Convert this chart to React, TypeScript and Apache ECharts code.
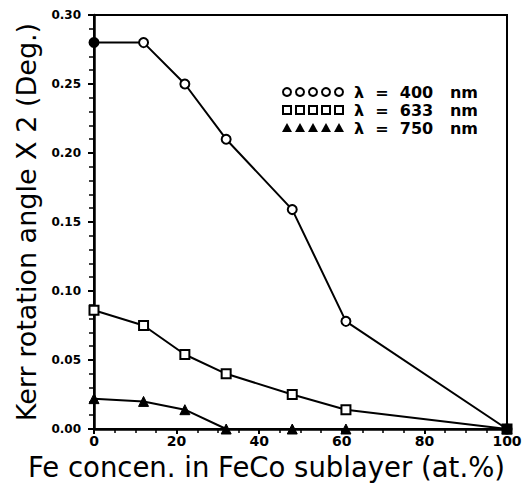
import React, { useEffect, useRef } from "react";
import * as echarts from "echarts";

const feConc = [0, 12, 22, 32, 48, 61, 100];
const kerr400 = [0.28, 0.28, 0.25, 0.21, 0.159, 0.078, 0.0];
const kerr633 = [0.086, 0.075, 0.054, 0.04, 0.025, 0.014, 0.0];
const kerr750 = [0.022, 0.02, 0.014, 0.0, 0.0, 0.0, 0.0];
const legendLabels = ["λ  =  400   nm", "λ  =  633   nm", "λ  =  750   nm"];
const seriesNames = ["400 nm", "633 nm", "750 nm"];

const FONT = "DejaVu Sans";

export default function App() {
  const ref = useRef<HTMLDivElement>(null);
  useEffect(() => {
    document.body.style.margin = "0";
    if (!ref.current) return;
    const chart = echarts.init(ref.current, undefined, { renderer: "svg" });
    const pts = (vals: number[]) => feConc.map((x, i) => [x, vals[i]]);
    const d400: any[] = pts(kerr400);
    d400[0] = { value: d400[0], itemStyle: { color: "#000" } };
    const d633: any[] = pts(kerr633);
    d633[d633.length - 1] = { value: d633[d633.length - 1], itemStyle: { color: "#000" } };
    const d750 = pts(kerr750);

    const legendX = 283;
    const legendY = [92, 110, 128];
    const legendEls: any[] = [];
    for (let r = 0; r < 3; r++) {
      for (let k = 0; k < 5; k++) {
        const cx = legendX + 4 + k * 13;
        const cy = legendY[r];
        if (r === 0) {
          legendEls.push({ type: "circle", shape: { cx, cy, r: 4 }, style: { fill: "#fff", stroke: "#000", lineWidth: 2 } });
        } else if (r === 1) {
          legendEls.push({ type: "rect", shape: { x: cx - 4, y: cy - 4, width: 8, height: 8 }, style: { fill: "#fff", stroke: "#000", lineWidth: 2 } });
        } else {
          legendEls.push({ type: "polygon", shape: { points: [[cx, cy - 5], [cx - 5, cy + 4], [cx + 5, cy + 4]] }, style: { fill: "#000" } });
        }
      }
      legendEls.push({
        type: "text",
        x: 354,
        y: legendY[r],
        style: { text: legendLabels[r], font: `bold 16px "${FONT}"`, fill: "#000", verticalAlign: "middle" },
      });
    }

    chart.setOption({
      animation: false,
      backgroundColor: "#fff",
      grid: {
        left: 94, right: 18, top: 15, bottom: 54,
        outerBoundsMode: "none",
        containLabel: false,
        show: true, borderColor: "#000", borderWidth: 2, backgroundColor: "transparent",
      },
      xAxis: {
        type: "value",
        min: 0,
        max: 100,
        interval: 20,
        name: "Fe concen. in FeCo sublayer (at.%)",
        nameLocation: "middle",
        nameGap: 23,
        nameTextStyle: { fontFamily: FONT, fontSize: 27.5, color: "#000", padding: [0, 68, 0, 0] },
        axisLine: { lineStyle: { color: "#000", width: 2.5 } },
        axisTick: { show: true, length: 5, lineStyle: { color: "#000", width: 2 } },
        minorTick: { show: true, splitNumber: 4, length: 4, lineStyle: { color: "#000", width: 1.5 } },
        axisLabel: { fontFamily: FONT, fontSize: 14, fontWeight: "bold", color: "#000", margin: 5 },
        splitLine: { show: false },
      },
      yAxis: {
        type: "value",
        min: 0,
        max: 0.3,
        interval: 0.05,
        name: "Kerr rotation angle X 2 (Deg.)",
        nameLocation: "middle",
        nameGap: 52,
        nameTextStyle: { fontFamily: FONT, fontSize: 27, color: "#000" },
        axisLine: { lineStyle: { color: "#000", width: 2.5 } },
        axisTick: { show: true, length: 6, lineStyle: { color: "#000", width: 2 } },
        minorTick: { show: true, splitNumber: 5, length: 5, lineStyle: { color: "#000", width: 1.5 } },
        axisLabel: { fontFamily: FONT, fontSize: 12, fontWeight: "bold", color: "#000", margin: 13, formatter: (v: number) => v.toFixed(2) },
        splitLine: { show: false },
      },
      series: [
        {
          name: seriesNames[0],
          type: "line",
          data: d400,
          symbol: "circle",
          symbolSize: 9,
          lineStyle: { color: "#000", width: 2 },
          itemStyle: { color: "#fff", borderColor: "#000", borderWidth: 2 },
          z: 3,
        },
        {
          name: seriesNames[1],
          type: "line",
          data: d633,
          symbol: "rect",
          symbolSize: 9,
          lineStyle: { color: "#000", width: 2 },
          itemStyle: { color: "#fff", borderColor: "#000", borderWidth: 2 },
          z: 4,
        },
        {
          name: seriesNames[2],
          type: "line",
          data: d750,
          symbol: "triangle",
          symbolSize: 10,
          lineStyle: { color: "#000", width: 2 },
          itemStyle: { color: "#000", borderColor: "#000", borderWidth: 1 },
          z: 2,
        },
      ],
      graphic: legendEls,
    });
    return () => chart.dispose();
  }, []);
  return <div ref={ref} style={{ width: 525, height: 483 }} />;
}
